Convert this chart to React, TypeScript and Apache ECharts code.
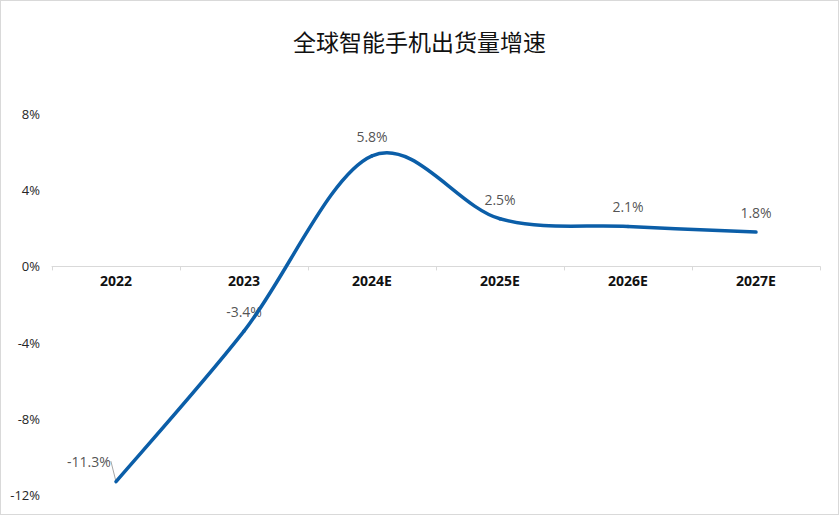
import React, { useEffect, useRef } from "react";
import * as echarts from "echarts";

const title = "全球智能手机出货量增速";
const categories = ["2022", "2023", "2024E", "2025E", "2026E", "2027E"];
const growth = [-11.3, -3.4, 5.8, 2.5, 2.1, 1.8];
const yTicks = { min: -12, max: 8, interval: 4 };

const W = 837;
const H = 513;
const GRID = { left: 51, right: 18, top: 113, bottom: 19 };

export default function App() {
  const ref = useRef<HTMLDivElement>(null);
  useEffect(() => {
    if (!ref.current) return;
    const chart = echarts.init(ref.current, null, { renderer: "svg" });
    const gridH = H - GRID.top - GRID.bottom;
    const zeroOffset = -gridH * (0 - yTicks.min) / (yTicks.max - yTicks.min);
    const n = growth.length;
    chart.setOption({
      animation: false,
      backgroundColor: "#ffffff",
      title: {
        text: title,
        left: "center",
        top: 23,
        textStyle: {
          fontFamily: "Noto Sans CJK SC",
          fontSize: 23,
          fontWeight: "normal",
          color: "#111111",
        },
      },
      grid: { ...GRID, containLabel: false },
      xAxis: {
        type: "category",
        data: categories,
        boundaryGap: true,
        offset: zeroOffset,
        axisLine: { show: true, onZero: false, lineStyle: { color: "#d9d9d9", width: 1 } },
        axisTick: { show: true, length: 4, lineStyle: { color: "#d9d9d9" } },
        axisLabel: {
          fontFamily: "Open Sans",
          fontWeight: "bold",
          fontSize: 14,
          color: "#111111",
          margin: 7,
        },
      },
      yAxis: {
        type: "value",
        min: yTicks.min,
        max: yTicks.max,
        interval: yTicks.interval,
        axisLine: { show: false },
        axisTick: { show: false },
        splitLine: { show: false },
        axisLabel: {
          formatter: (v: number) => `${v}%`,
          fontFamily: "Open Sans",
          fontSize: 13,
          color: "#262626",
          margin: 12,
        },
      },
      series: [
        {
          type: "custom",
          data: growth.map((v, i) => [i, v]),
          z: 3,
          renderItem: (params: any, api: any) => {
            const i = params.dataIndex;
            if (i >= n - 1) return null;
            const P = (k: number) => {
              const kk = Math.max(0, Math.min(n - 1, k));
              return api.coord([kk, growth[kk]]);
            };
            const p0 = P(i - 1);
            const p1 = P(i);
            const p2 = P(i + 1);
            const p3 = P(i + 2);
            const cp1 = [p1[0] + (p2[0] - p0[0]) / 6, p1[1] + (p2[1] - p0[1]) / 6];
            const cp2 = [p2[0] - (p3[0] - p1[0]) / 6, p2[1] - (p3[1] - p1[1]) / 6];
            return {
              type: "bezierCurve",
              shape: {
                x1: p1[0], y1: p1[1],
                x2: p2[0], y2: p2[1],
                cpx1: cp1[0], cpy1: cp1[1],
                cpx2: cp2[0], cpy2: cp2[1],
              },
              style: { stroke: "#0b5ea8", lineWidth: 3.5, fill: null, lineCap: "round" },
            };
          },
        },
        {
          type: "scatter",
          symbolSize: 1,
          itemStyle: { color: "rgba(0,0,0,0)" },
          data: growth.map((v, i) => ({
            value: [i, v],
            labelLine: { show: i === 0, lineStyle: { color: "#a6a6a6", width: 1 } },
          })),
          label: {
            show: true,
            position: "top",
            distance: 12,
            formatter: (p: any) => `${p.value[1]}%`,
            fontFamily: "Open Sans",
            fontSize: 14,
            color: "#262626",
          },
          labelLayout: (p: any) => (p.dataIndex === 0 ? { dx: -27, dy: -1 } : {}),
        },
      ],
    });
    return () => chart.dispose();
  }, []);
  return (
    <div
      style={{
        position: "absolute",
        left: 0,
        top: 0,
        width: 839,
        height: 515,
        border: "1px solid #d9d9d9",
        boxSizing: "border-box",
        background: "#fff",
      }}
    >
      <div ref={ref} style={{ width: W, height: H }} />
    </div>
  );
}
